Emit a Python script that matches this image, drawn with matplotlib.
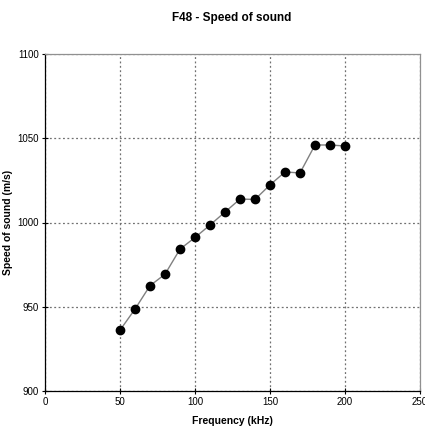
import matplotlib
matplotlib.use("Agg")
import matplotlib.pyplot as plt
from matplotlib import font_manager

freq_khz = [50, 60, 70, 80, 90, 100, 110, 120, 130, 140, 150, 160, 170, 180, 190, 200]
speed_ms = [936.1, 948.6, 962.5, 969.3, 984.2, 991.1, 998.5, 1006.2, 1013.9, 1013.7,
            1022.3, 1030.0, 1029.4, 1046.0, 1046.0, 1045.4]

x_ticks = [0, 50, 100, 150, 200, 250]
y_ticks = [900, 950, 1000, 1050, 1100]

names = {f.name for f in font_manager.fontManager.ttflist}
family = "Liberation Sans Narrow" if "Liberation Sans Narrow" in names else "Liberation Sans"
plt.rcParams["font.family"] = [family, "DejaVu Sans"]

fig = plt.figure(figsize=(4.25, 4.37), dpi=100)
ax = fig.add_axes([45 / 425, 1 - 391 / 437, 375 / 425, 337 / 437])

ax.plot(freq_khz, speed_ms, color="#808080", linewidth=1.0, zorder=2)
ax.plot(freq_khz, speed_ms, linestyle="none", marker="o", markersize=6,
        color="black", zorder=3)

ax.set_xlim(0, 250)
ax.set_ylim(900, 1100)
ax.set_xticks(x_ticks)
ax.set_yticks(y_ticks)
ax.tick_params(labelsize=7, direction="inout", length=5, width=0.8, color="black", pad=2)

ax.grid(True, linestyle=(0, (1.5, 2)), color="#707070", linewidth=0.9)

for side in ["left", "bottom"]:
    ax.spines[side].set_color("black")
    ax.spines[side].set_linewidth(0.9)
for side in ["top", "right"]:
    ax.spines[side].set_color("#909090")
    ax.spines[side].set_linewidth(0.9)

ax.set_xlabel("Frequency (kHz)", fontsize=7.5, fontweight="bold", labelpad=6)
fig.text(8 / 425, 1 - 222 / 437, "Speed of sound (m/s)", rotation=90,
         ha="center", va="center", fontsize=7.5, fontweight="bold")
fig.text(232 / 425, 1 - 18 / 437, "F48 - Speed of sound", ha="center", va="center",
         fontsize=8.5, fontweight="bold")

fig.savefig("out.png", dpi=100)
